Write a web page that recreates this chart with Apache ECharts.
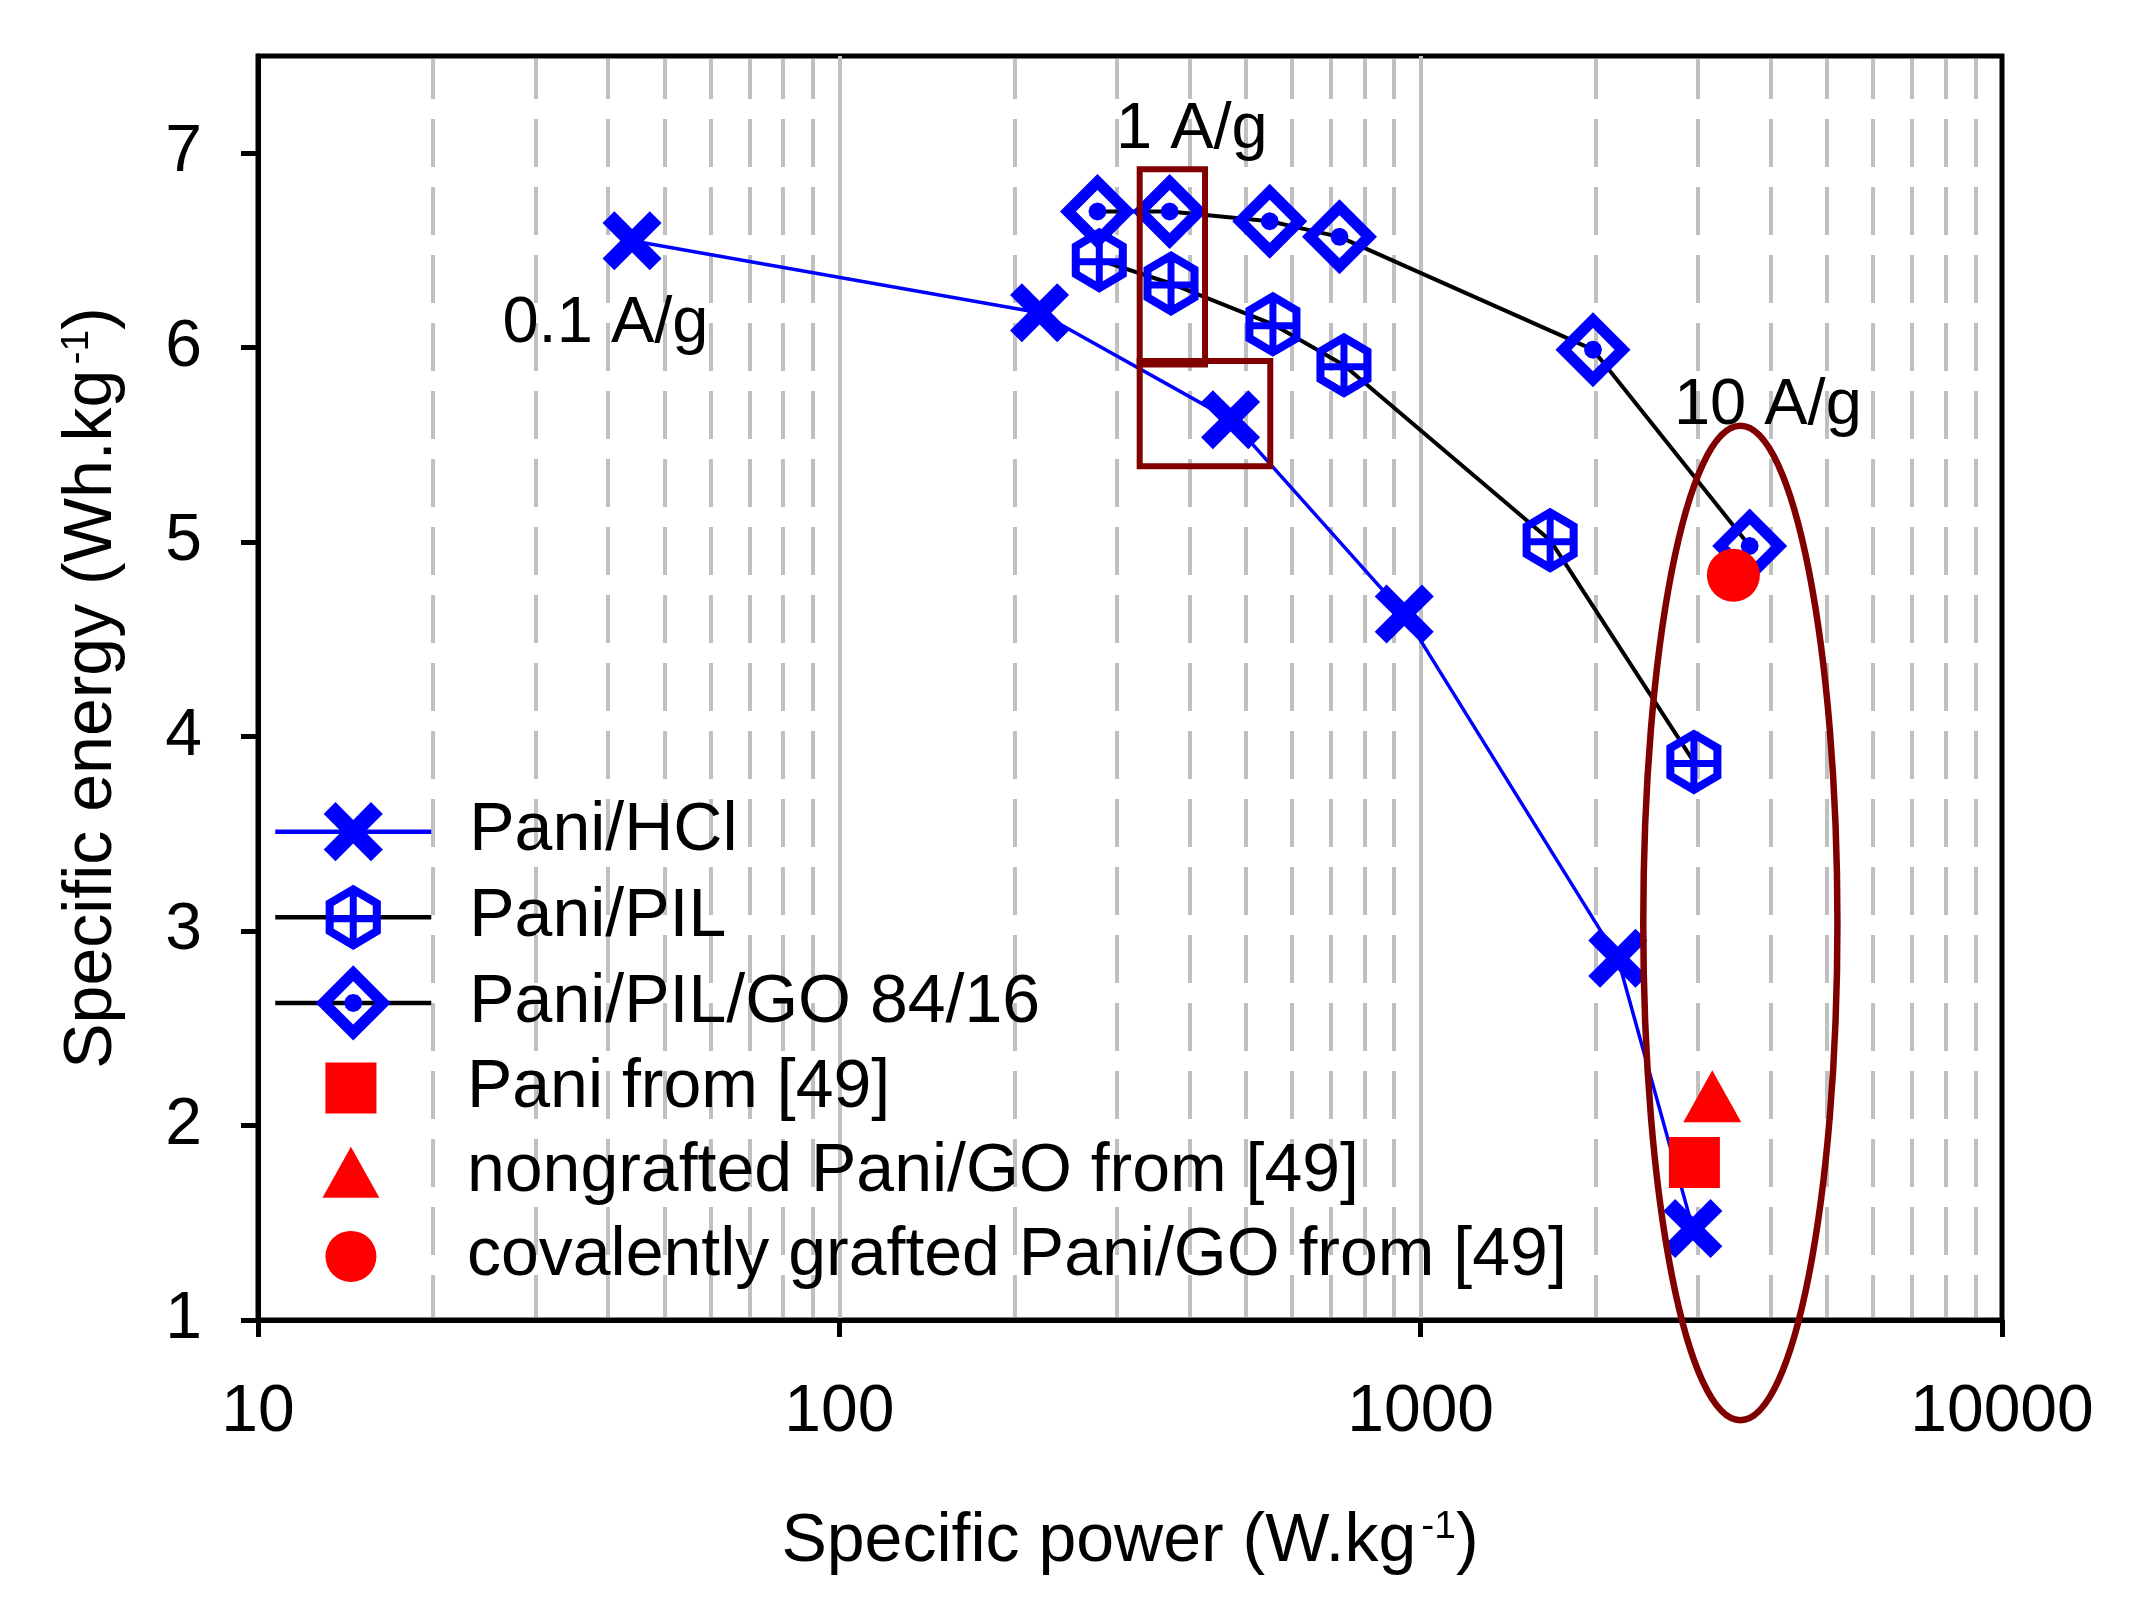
<!DOCTYPE html>
<html>
<head>
<meta charset="utf-8">
<script src="https://cdn.jsdelivr.net/npm/echarts@6/dist/echarts.min.js"></script>
<style>
html,body{margin:0;padding:0;background:#ffffff;}
#chart{width:2143px;height:1624px;}
</style>
</head>
<body>
<div id="chart"></div>
<script>
// ---------------- data ----------------
const seriesNames = ['Pani/HCl', 'Pani/PIL', 'Pani/PIL/GO 84/16', 'Pani from [49]', 'nongrafted Pani/GO from [49]', 'covalently grafted Pani/GO from [49]'];

const hclPower  = [44, 221, 471, 937, 2183, 2939];
const hclEnergy = [6.55, 6.18, 5.63, 4.63, 2.86, 1.47];

const pilPower  = [280, 372, 557, 738, 1670, 2951];
const pilEnergy = [6.45, 6.33, 6.12, 5.91, 5.01, 3.87];

const goPower  = [278, 370, 550, 725, 1979, 3681];
const goEnergy = [6.70, 6.70, 6.65, 6.57, 5.99, 4.98];

const paniRefPower = [2957];
const paniRefEnergy = [1.81];
const nongraftedPower = [3174];
const nongraftedEnergy = [2.15];
const graftedPower = [3451];
const graftedEnergy = [4.83];

const xTickValues = [10, 100, 1000, 10000];
const yTickValues = [1, 2, 3, 4, 5, 6, 7];
const minorGridValues = [20, 30, 40, 50, 60, 70, 80, 90,
                         200, 300, 400, 500, 600, 700, 800, 900,
                         2000, 3000, 4000, 5000, 6000, 7000, 8000, 9000];

// annotations (in data units)
const noteTexts  = ['0.1 A/g', '1 A/g', '10 A/g'];
const notePower  = [39.6, 404, 3956];
const noteEnergy = [6.12, 7.12, 5.70];

const boxPowerFrom   = [328.6, 328.6];
const boxPowerTo     = [425.7, 551.2];
const boxEnergyTop   = [6.918, 5.931];
const boxEnergyBottom= [5.914, 5.390];

const ellipsePower  = [2415, 5211];
const ellipseEnergy = [0.485, 5.598];

// ---------------- chart ----------------
const FONT = "'Liberation Sans', Arial, sans-serif";
const BLUE = '#0000ff', RED = '#ff0000', DARK = '#800000', GRID = '#c0c0c0';

const pair = (xs, ys) => xs.map((x, i) => [x, ys[i]]);

// filled outline shapes (outer clockwise, hole counter-clockwise), drawn in a 100x100 box
const xSymbol = 'path://M0,0 M100,100 M10.65,26.4 L26.4,10.65 L50,34.3 L73.6,10.65 L89.35,26.4 L65.7,50 L89.35,73.6 L73.6,89.35 L50,65.7 L26.4,89.35 L10.65,73.6 L34.3,50 Z';
const hexSymbol = 'path://M0,0 M100,100 ' +
  'M50,6.65 L86.7,28.3 L86.7,71.7 L50,93.35 L13.3,71.7 L13.3,28.3 Z ' +
  'M50,19.3 L24,34.65 L24,65.35 L50,80.7 L76,65.35 L76,34.65 Z ' +
  'M45.35,15 L54.65,15 L54.65,85 L45.35,85 Z ' +
  'M20,47.35 L80,47.35 L80,56.65 L20,56.65 Z';
const diamondSymbol = 'path://M50,0 L100,50 L50,100 L0,50 Z ' +
  'M50,21.3 L21.3,50 L50,78.7 L78.7,50 Z ' +
  'M62,50 L60.4,56 L56,60.4 L50,62 L44,60.4 L39.6,56 L38,50 L39.6,44 L44,39.6 L50,38 L56,39.6 L60.4,44 Z';
const squareSymbol = 'path://M0,0 L10,0 L10,10 L0,10 Z';
const triangleSymbol = 'path://M29,0 L58,52 L0,52 Z';

const chart = echarts.init(document.getElementById('chart'), null, {renderer: 'canvas'});

const axisNameRich = {
  t: {fontSize: 68, fontFamily: FONT, color: '#000', lineHeight: 68},
  s: {fontSize: 39, fontFamily: FONT, color: '#000', lineHeight: 20, verticalAlign: 'top', padding: [0, 0, 0, 5]}
};

const option = {
  backgroundColor: '#ffffff',
  animation: false,
  grid: {left: 258, right: 141, top: 56, bottom: 304, show: true, borderColor: '#000', borderWidth: 5, backgroundColor: 'transparent'},
  xAxis: {
    type: 'log', logBase: 10, min: 10, max: 10000,
    name: '{t|Specific power (W.kg}{s|-1}{t|)}',
    nameLocation: 'middle', nameGap: 188,
    nameTextStyle: {rich: axisNameRich},
    axisLine: {show: true, onZero: false, lineStyle: {color: '#000', width: 5}},
    axisTick: {show: true, inside: false, length: 17, lineStyle: {color: '#000', width: 5}, customValues: xTickValues},
    axisLabel: {fontSize: 66, fontFamily: FONT, color: '#000', margin: 60, lineHeight: 66,
      customValues: xTickValues, formatter: v => String(Math.round(v))},
    splitLine: {show: true, showMinLine: false, showMaxLine: false, lineStyle: {color: GRID, width: 4, type: 'solid'}},
    minorTick: {show: false}, minorSplitLine: {show: false}
  },
  yAxis: {
    type: 'value', min: 1, max: 7.5, interval: 1,
    name: '{t|Specific energy (Wh.kg}{s|-1}{t|)}',
    nameLocation: 'middle', nameGap: 132, nameRotate: 90,
    nameTextStyle: {rich: axisNameRich},
    axisLine: {show: true, onZero: false, lineStyle: {color: '#000', width: 5}},
    axisTick: {show: true, inside: false, length: 17, lineStyle: {color: '#000', width: 5}, customValues: yTickValues},
    axisLabel: {fontSize: 66, fontFamily: FONT, color: '#000', margin: 56, customValues: yTickValues},
    splitLine: {show: false}
  },
  legend: [
    {
      data: seriesNames.slice(0, 3), orient: 'vertical', left: 273, top: 784.7, padding: 0,
      itemWidth: 156, itemHeight: 94, itemGap: -8.4, selectedMode: false,
      lineStyle: {width: 4.5},
      itemStyle: {borderWidth: 0, color: 'inherit'},
      textStyle: {fontSize: 68, fontFamily: FONT, color: '#000', lineHeight: 94, padding: [0, 0, 0, 33]}
    },
    {
      data: seriesNames.slice(3), orient: 'vertical', left: 322.5, top: 1054, padding: 0,
      itemWidth: 156, itemHeight: 51, itemGap: 16.2, selectedMode: false,
      textStyle: {fontSize: 68, fontFamily: FONT, color: '#000', lineHeight: 68, padding: [0, 0, 0, 33]}
    }
  ],
  series: [
    {
      type: 'line', name: '_minorGrid', data: [], z: 1, silent: true,
      markLine: {
        silent: true, z: 1, symbol: ['none', 'none'], label: {show: false}, animation: false,
        emphasis: {disabled: true},
        lineStyle: {color: GRID, width: 4, type: [48, 20], dashOffset: 6},
        data: minorGridValues.map(v => [{coord: [v, 1.015]}, {coord: [v, 7.485]}])
      }
    },
    {
      type: 'line', name: seriesNames[0], data: pair(hclPower, hclEnergy), z: 3,
      symbol: xSymbol, symbolSize: 75,
      lineStyle: {color: BLUE, width: 3.5},
      itemStyle: {color: BLUE, borderWidth: 0}
    },
    {
      type: 'line', name: seriesNames[1], data: pair(pilPower, pilEnergy), z: 3,
      symbol: hexSymbol, symbolSize: 75,
      lineStyle: {color: '#000', width: 4},
      itemStyle: {color: BLUE, borderWidth: 0}
    },
    {
      type: 'line', name: seriesNames[2], data: pair(goPower, goEnergy), z: 3,
      symbol: diamondSymbol, symbolSize: 75,
      lineStyle: {color: '#000', width: 4},
      itemStyle: {color: BLUE, borderWidth: 0}
    },
    {
      type: 'scatter', name: seriesNames[3], data: pair(paniRefPower, paniRefEnergy), z: 4,
      symbol: squareSymbol, symbolSize: 51, itemStyle: {color: RED, opacity: 1}
    },
    {
      type: 'scatter', name: seriesNames[4], data: pair(nongraftedPower, nongraftedEnergy), z: 4,
      symbol: triangleSymbol, symbolSize: [58, 52], itemStyle: {color: RED, opacity: 1}
    },
    {
      type: 'scatter', name: seriesNames[5], data: pair(graftedPower, graftedEnergy), z: 4,
      symbol: 'circle', symbolSize: 53, itemStyle: {color: RED, opacity: 1}
    },
    {
      type: 'custom', name: '_boxes', z: 10, silent: true, clip: false,
      data: boxPowerFrom.map((x, i) => [x, boxEnergyTop[i], boxPowerTo[i], boxEnergyBottom[i]]),
      encode: {x: [0, 2], y: [1, 3]},
      renderItem: (params, api) => {
        const p0 = api.coord([api.value(0), api.value(1)]);
        const p1 = api.coord([api.value(2), api.value(3)]);
        return {type: 'rect', shape: {x: p0[0], y: p0[1], width: p1[0] - p0[0], height: p1[1] - p0[1]},
                style: {fill: 'none', stroke: DARK, lineWidth: 6}};
      }
    },
    {
      type: 'custom', name: '_ellipse', z: 10, silent: true, clip: false,
      data: [[ellipsePower[0], ellipseEnergy[0], ellipsePower[1], ellipseEnergy[1]]],
      encode: {x: [0, 2], y: [1, 3]},
      renderItem: (params, api) => {
        const p0 = api.coord([api.value(0), api.value(1)]);
        const p1 = api.coord([api.value(2), api.value(3)]);
        return {type: 'ellipse', shape: {cx: (p0[0] + p1[0]) / 2, cy: (p0[1] + p1[1]) / 2,
                rx: Math.abs(p1[0] - p0[0]) / 2, ry: Math.abs(p1[1] - p0[1]) / 2},
                style: {fill: 'none', stroke: DARK, lineWidth: 6.5}};
      }
    },
    {
      type: 'custom', name: '_notes', z: 10, silent: true, clip: false,
      data: pair(notePower, noteEnergy),
      encode: {x: 0, y: 1},
      renderItem: (params, api) => {
        const p = api.coord([api.value(0), api.value(1)]);
        return {type: 'text', x: p[0], y: p[1],
                style: {text: noteTexts[params.dataIndex], fontSize: 65, fontFamily: FONT, fill: '#000',
                        align: 'center', verticalAlign: 'middle'}};
      }
    }
  ]
};
chart.setOption(option);
</script>
</body>
</html>
